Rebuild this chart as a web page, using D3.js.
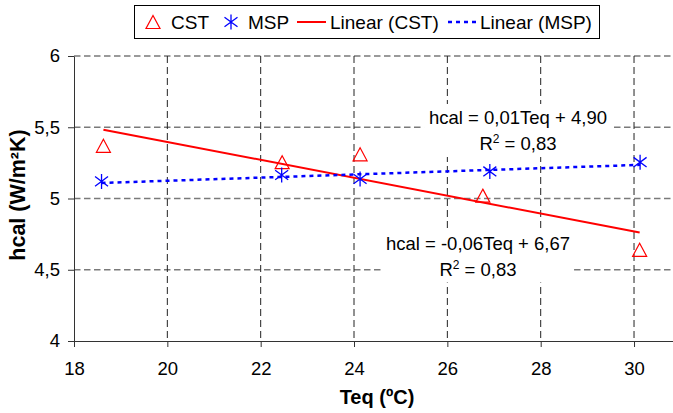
<!DOCTYPE html>
<html>
<head>
<meta charset="utf-8">
<script src="https://cdn.jsdelivr.net/npm/d3@7"></script>
<style>
  body { margin: 0; background: #fff; }
  svg { display: block; }
  text { font-family: "Liberation Sans", Arial, sans-serif; fill: #000; }
</style>
</head>
<body>
<svg id="chart" width="673" height="413"></svg>
<script>
// Measured heat transfer coefficient vs. equivalent temperature
const cstTeq = [18.63, 22.46, 24.13, 26.76, 30.12];
const cstH   = [5.37, 5.255, 5.31, 5.02, 4.64];
const mspTeq = [18.59, 22.45, 24.13, 26.91, 30.13];
const mspH   = [5.12, 5.165, 5.137, 5.19, 5.255];

const xTicks = [18, 20, 22, 24, 26, 28, 30];
const yTicks = [4, 4.5, 5, 5.5, 6];
const legendLabels = ["CST", "MSP", "Linear (CST)", "Linear (MSP)"];
const mspEquation = "hcal = 0,01Teq + 4,90";
const cstEquation = "hcal = -0,06Teq + 6,67";
const r2Value = "0,83";
const xTitle = "Teq (ºC)";
const yTitle = "hcal (W/m²K)";

const RED = "#ff0000", BLUE = "#0000ff";
const svg = d3.select("#chart");

const x = d3.scaleLinear().domain([18, 31]).range([74, 680.7]);
const y = d3.scaleLinear().domain([4, 6]).range([341, 56]);
const fmt = d => String(d).replace(".", ",");

// least-squares trendline
function fit(xs, ys) {
  const mx = d3.mean(xs), my = d3.mean(ys);
  let sxy = 0, sxx = 0;
  xs.forEach((v, i) => { sxy += (v - mx) * (ys[i] - my); sxx += (v - mx) ** 2; });
  const slope = sxy / sxx;
  return { slope, intercept: my - slope * mx, x0: d3.min(xs), x1: d3.max(xs) };
}

// gridlines
svg.append("g").selectAll("line").data(yTicks.filter(d => d > 4)).join("line")
  .attr("x1", x(18)).attr("x2", 673)
  .attr("y1", d => y(d)).attr("y2", d => y(d))
  .attr("stroke", "#7a7a7a").attr("stroke-width", 1.5).attr("stroke-dasharray", "6.5,3.5");
svg.append("g").selectAll("line").data(xTicks.filter(d => d > 18)).join("line")
  .attr("x1", d => x(d)).attr("x2", d => x(d))
  .attr("y1", y(6)).attr("y2", y(4))
  .attr("stroke", "#222").attr("stroke-width", 1).attr("stroke-dasharray", "7,4");

// axes
const xAxis = svg.append("g").attr("transform", `translate(0,${y(4)})`)
  .call(d3.axisBottom(x).tickValues(xTicks).tickFormat(fmt).tickSize(6).tickSizeOuter(0).tickPadding(15));
const yAxis = svg.append("g").attr("transform", `translate(${x(18)},0)`)
  .call(d3.axisLeft(y).tickValues(yTicks).tickFormat(fmt).tickSize(6).tickSizeOuter(0).tickPadding(8));
[xAxis, yAxis].forEach(g => {
  g.select(".domain").attr("stroke", "#333");
  g.selectAll(".tick line").attr("stroke", "#333");
  g.selectAll("text").attr("font-size", 18.5).attr("font-family", "Liberation Sans, Arial, sans-serif").attr("fill", "#000");
});

// axis titles
svg.append("text").attr("x", 377).attr("y", 404).attr("text-anchor", "middle")
  .attr("font-size", 20).attr("font-weight", "bold").text(xTitle);
svg.append("text").attr("transform", "translate(25,195) rotate(-90)").attr("text-anchor", "middle")
  .attr("font-size", 21.5).attr("font-weight", "bold").text(yTitle);

// equation labels with white text boxes
function equationLabel(cx, baseline, eq) {
  const g = svg.append("g");
  const rect = g.append("rect").attr("fill", "#fff");
  const t = g.append("text").attr("text-anchor", "middle").attr("font-size", 18.5);
  t.append("tspan").attr("x", cx).attr("y", baseline).text(eq);
  const t2 = t.append("tspan").attr("x", cx).attr("y", baseline + 26);
  t2.append("tspan").text("R");
  t2.append("tspan").attr("font-size", 12).attr("dy", -7).text("2");
  t2.append("tspan").attr("dy", 7).text(" = " + r2Value);
  const b = t.node().getBBox();
  rect.attr("x", b.x - 5).attr("y", b.y - 3).attr("width", b.width + 9).attr("height", b.height + 6);
}
equationLabel(518, 124, mspEquation);
equationLabel(478, 249.5, cstEquation);

// trendlines
const cstFit = fit(cstTeq, cstH), mspFit = fit(mspTeq, mspH);
const line = f => d3.line()([[x(f.x0), y(f.intercept + f.slope * f.x0)], [x(f.x1), y(f.intercept + f.slope * f.x1)]]);
svg.append("path").attr("d", line(cstFit)).attr("stroke", RED).attr("stroke-width", 2).attr("fill", "none");
svg.append("path").attr("d", line(mspFit)).attr("stroke", BLUE).attr("stroke-width", 2.5)
  .attr("stroke-dasharray", "4,4").attr("fill", "none");

// markers
const triPath = "M0,-6.5L7,6.5L-7,6.5Z";
const starPath = "M0,-7.5L0,7.5M-6.5,-4.8L6.5,4.8M-6.5,4.8L6.5,-4.8";
svg.append("g").selectAll("path").data(cstTeq).join("path")
  .attr("transform", (d, i) => `translate(${x(d)},${y(cstH[i])})`)
  .attr("d", triPath).attr("fill", "none").attr("stroke", RED).attr("stroke-width", 1.2);
svg.append("g").selectAll("path").data(mspTeq).join("path")
  .attr("transform", (d, i) => `translate(${x(d)},${y(mspH[i])})`)
  .attr("d", starPath).attr("fill", "none").attr("stroke", BLUE).attr("stroke-width", 1.3);

// legend
const lg = svg.append("g");
lg.append("rect").attr("x", 134.5).attr("y", 5.5).attr("width", 465).attr("height", 33)
  .attr("fill", "#fff").attr("stroke", "#000").attr("stroke-width", 1);
const ly = 22;
lg.append("path").attr("transform", `translate(153,${ly})`).attr("d", triPath)
  .attr("fill", "none").attr("stroke", RED).attr("stroke-width", 1.2);
lg.append("path").attr("transform", `translate(231,${ly})`).attr("d", starPath)
  .attr("fill", "none").attr("stroke", BLUE).attr("stroke-width", 1.3);
lg.append("line").attr("x1", 297).attr("x2", 326).attr("y1", ly).attr("y2", ly)
  .attr("stroke", RED).attr("stroke-width", 2);
lg.append("line").attr("x1", 448).attr("x2", 476).attr("y1", ly).attr("y2", ly)
  .attr("stroke", BLUE).attr("stroke-width", 2.5).attr("stroke-dasharray", "4,4");
const textX = [171, 248, 330, 480];
lg.selectAll("text.lbl").data(legendLabels).join("text").attr("class", "lbl")
  .attr("x", (d, i) => textX[i]).attr("y", ly + 6.8).attr("font-size", 19).text(d => d);
</script>
</body>
</html>
